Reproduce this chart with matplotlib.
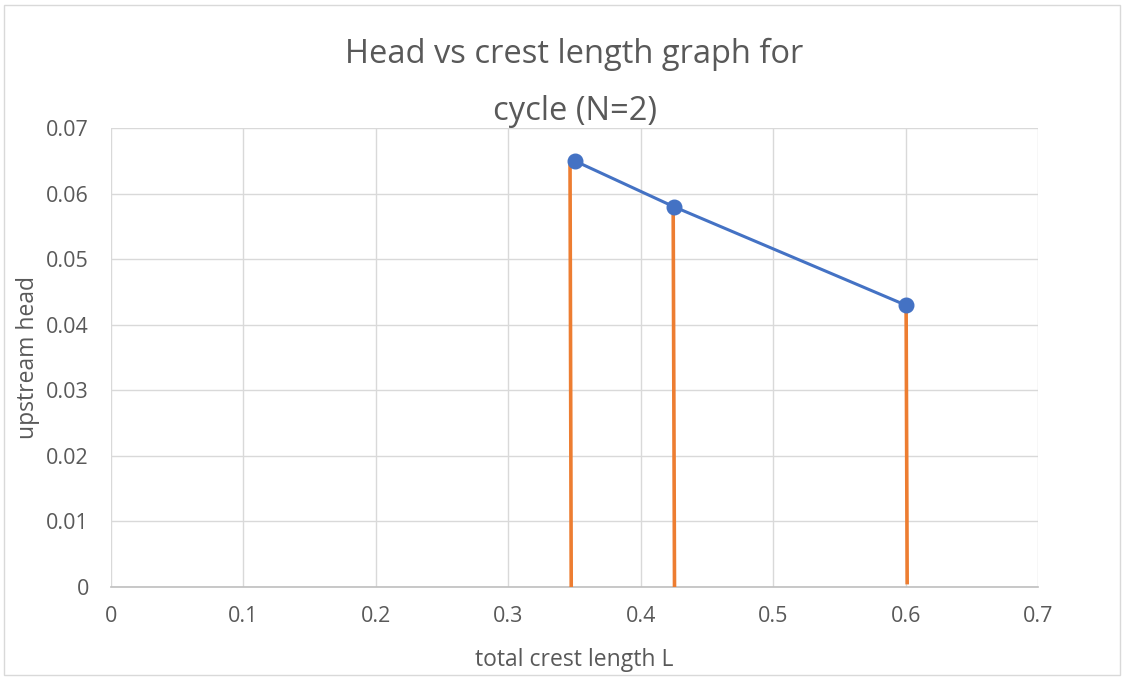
import matplotlib.pyplot as plt
from matplotlib.patches import Rectangle

# данные
crest_length = [0.35, 0.425, 0.6]
head = [0.065, 0.058, 0.043]

# оранжевые вертикальные линии (нарисованы вручную, чуть наклонены)
drop_x_top = [0.3466, 0.4245, 0.6004]
drop_x_bottom = [0.3475, 0.4255, 0.6012]
drop_y_top = [0.0647, 0.0575, 0.0425]
drop_y_bottom = [0.0, -0.0003, 0.0004]

xticks = [0, 0.1, 0.2, 0.3, 0.4, 0.5, 0.6, 0.7]
yticks = [0, 0.01, 0.02, 0.03, 0.04, 0.05, 0.06, 0.07]

plt.rcParams['font.family'] = ['Open Sans', 'DejaVu Sans']
txt = '#595959'

fig = plt.figure(figsize=(11.24, 6.78), dpi=100)
fig.patches.append(Rectangle((0.004, 0.004), 0.992, 0.989, transform=fig.transFigure,
                             fill=False, edgecolor='#d9d9d9', linewidth=1))
ax = fig.add_axes([0.0988, 0.1342, 0.8247, 0.677])

for xt, xb, yt, yb in zip(drop_x_top, drop_x_bottom, drop_y_top, drop_y_bottom):
    ax.plot([xt, xb], [yt, yb], color='#ED7D31', linewidth=2.6, solid_capstyle='butt', zorder=3)

ax.plot(crest_length, head, color='#4472C4', linewidth=2.2, marker='o', markersize=10.5, zorder=4)

ax.set_xlim(0, 0.7)
ax.set_ylim(0, 0.07)
ax.set_xticks(xticks)
ax.set_yticks(yticks)
ax.set_xticklabels([f'{v:g}' for v in xticks])
ax.set_yticklabels([f'{v:g}' for v in yticks])
ax.grid(True, color='#d9d9d9', linewidth=1)
ax.set_axisbelow(True)
for s in ['top', 'right', 'left']:
    ax.spines[s].set_visible(False)
ax.spines['bottom'].set_color('#bfbfbf')
ax.spines['bottom'].set_linewidth(1.2)
ax.tick_params(axis='y', length=0, labelsize=15.5, colors=txt, pad=16)
ax.tick_params(axis='x', length=0, labelsize=15.5, colors=txt, pad=14)

ax.set_title('Head vs crest length graph for\ncycle (N=2)', fontsize=23.5, color=txt,
             pad=5, linespacing=1.95)
ax.set_xlabel('total crest length L', fontsize=16.5, color=txt, labelpad=15)
ax.set_ylabel('upstream head', fontsize=16.5, color=txt, labelpad=4)

fig.savefig('out.png', dpi=100)
